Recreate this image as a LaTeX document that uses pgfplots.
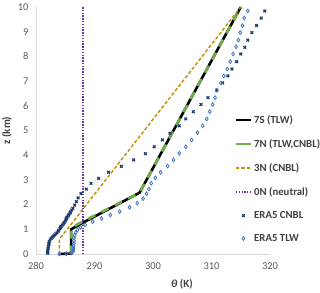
\documentclass[border=0pt]{standalone}
\usepackage{fontspec}
\setmainfont{Carlito}
\usepackage{pgfplots}
\pgfplotsset{compat=1.18}
\definecolor{ticktext}{HTML}{595959}
\definecolor{legtext}{HTML}{404040}
\definecolor{axgray}{HTML}{D9D9D9}
\definecolor{cgreen}{HTML}{70AD47}
\definecolor{corange}{HTML}{BF9000}
\definecolor{cpurple}{HTML}{7030A0}
\definecolor{cnavy}{HTML}{1F3A6E}
\definecolor{cblue}{HTML}{4472C4}
\begin{document}
\begin{tikzpicture}
\begin{axis}[
  scale only axis, width=234bp, height=247bp,
  at={(0,0)}, anchor=south west,
  xmin=280, xmax=320, ymin=0, ymax=10,
  xtick={280,290,300,310,320}, ytick={0,1,...,10},
  axis x line*=bottom, axis y line*=left,
  axis line style={draw=axgray, line width=0.8pt, -},
  major tick length=0pt,
  /pgf/number format/assume math mode=true,
  every tick label/.append style={font=\fontsize{10.5}{12}\selectfont, text=ticktext},
  yticklabel style={xshift=-4bp},
  xticklabel style={yshift=-5bp},
  ylabel={\textbf{z (km)}},
  xlabel={\textbf{\textit{θ} (K)}},
  every axis y label/.style={at={(axis description cs:-0.124,0.5)}, rotate=90, anchor=center, font=\fontsize{11}{13}\selectfont, text=legtext},
  every axis x label/.style={at={(axis description cs:0.624,-0.121)}, anchor=center, font=\fontsize{11}{13}\selectfont, text=legtext},
  clip=false,
  legend cell align=left,
  legend style={draw=none, fill=none, at={(rel axis cs:0.848,0.57)}, anchor=north west,
    font=\fontsize{10.8}{13}\selectfont\bfseries, text=legtext, row sep=10.5bp, inner sep=0pt,
    nodes={inner xsep=2bp}},
  legend image code/.code={\draw[mark repeat=2, mark phase=2, #1] plot coordinates {(0bp,0bp) (7.5bp,0bp) (15bp,0bp)};},
]
% 7S (TLW)
\addplot[black, line width=2.6pt, no markers] coordinates {
(284,0) (286,0.02) (286,1.0) (287.8,1.24) (297.7,2.48) (315,10)};
\addlegendentry{7S (TLW)}
% 7N (TLW,CNBL)
\addplot[cgreen, line width=2.6pt, no markers, dash pattern=on 8pt off 7pt, legend image post style={solid}] coordinates {
(286,0.02) (286,1.05) (287.4,1.24) (297.7,2.48) (315,10)};
\addlegendentry{7N (TLW,CNBL)}
% 3N (CNBL)
\addplot[corange, line width=1.4pt, no markers, dash pattern=on 3.5pt off 2pt] coordinates {
(284,0) (284,0.6) (315,10)};
\addlegendentry{3N (CNBL)}
% 0N (neutral)
\addplot[cpurple, line width=1.6pt, no markers, dash pattern=on 1.4pt off 1.4pt] coordinates {
(288,0) (288,10)};
\addlegendentry{0N (neutral)}
% ERA5 CNBL
\addplot[only marks, mark=x, mark size=1.9pt, cnavy, line width=1.2pt] coordinates {
(282.0,0.03) (282.0,0.08) (282.0,0.16) (282.1,0.23) (282.1,0.30) (282.2,0.37) (282.2,0.43)
(282.3,0.50) (282.4,0.57) (282.6,0.63) (282.8,0.68) (283.0,0.73) (283.2,0.77) (283.4,0.82)
(283.6,0.86) (283.8,0.92) (283.9,0.97) (284.1,1.03) (284.2,1.08) (284.3,1.12) (284.5,1.17)
(284.7,1.22) (284.8,1.27) (285.0,1.33) (285.1,1.38) (285.2,1.44) (285.3,1.49) (285.5,1.54)
(285.6,1.59) (285.8,1.65) (285.9,1.70) (286.1,1.78) (286.3,1.85) (286.6,1.98) (286.9,2.12)
(287.2,2.27) (287.7,2.45) (288.6,2.63) (289.4,2.86) (290.7,3.06) (292.4,3.31) (294.6,3.55)
(296.7,3.81) (298.7,4.06) (300.2,4.34) (301.6,4.62) (302.9,4.89) (304.5,5.19) (305.6,5.47)
(306.9,5.76) (308.2,6.05) (309.4,6.33) (310.9,6.63) (311.9,6.93) (312.8,7.21) (313.5,7.49)
(314.3,7.79) (315.0,8.10) (315.7,8.37) (316.2,8.66) (316.9,8.96) (317.7,9.25) (318.5,9.55)
(319.1,9.84)};
\addlegendentry{ERA5 CNBL}
% ERA5 TLW
\addplot[only marks, mark=diamond, mark size=1.9pt, cblue, line width=0.8pt] coordinates {
(284.0,0.0) (285.2,0.01) (286.0,0.04) (286.3,0.09) (286.4,0.16) (286.4,0.24) (286.4,0.33)
(286.5,0.43) (286.5,0.54) (286.5,0.65) (286.6,0.76) (286.8,0.87) (287.1,0.98) (287.6,1.08)
(288.4,1.18) (289.7,1.31) (291.2,1.44) (292.7,1.58) (294.3,1.72) (296.0,1.89) (297.3,2.06)
(298.3,2.24) (298.9,2.44) (299.3,2.63) (299.7,2.86) (300.4,3.08) (301.3,3.31) (302.5,3.56)
(303.5,3.81) (304.5,4.08) (305.6,4.34) (306.6,4.62) (307.6,4.91) (308.5,5.19) (309.2,5.47)
(309.7,5.76) (310.2,6.05) (310.6,6.33) (310.9,6.63) (311.6,6.92) (312.1,7.21) (312.7,7.49)
(313.2,7.79) (313.7,8.10) (314.2,8.39) (314.6,8.66) (314.9,8.96) (315.3,9.25) (315.6,9.55)
(316.2,9.84)};
\addlegendentry{ERA5 TLW}
\end{axis}
\pgfresetboundingbox
\path[use as bounding box] (-36bp,-39bp) rectangle (284bp,254bp);
\end{tikzpicture}
\end{document}
